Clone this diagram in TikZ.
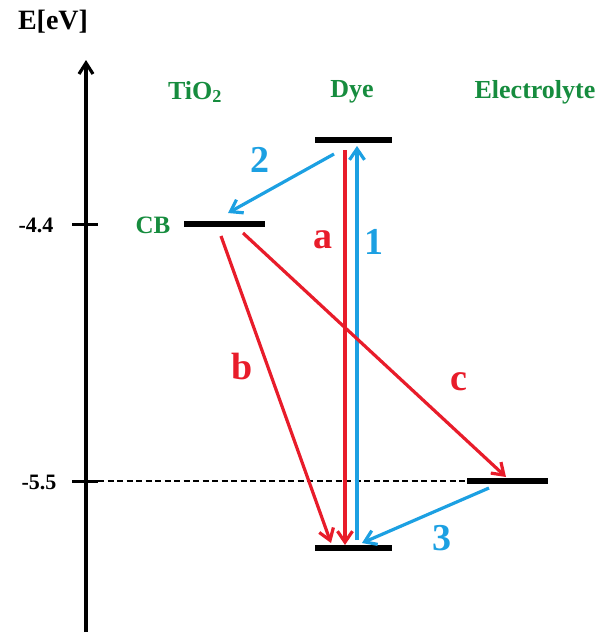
\documentclass[tikz,border=0pt]{standalone}
\usepackage{fontspec}
\setmainfont{Liberation Serif}
\usetikzlibrary{arrows.meta}
\definecolor{myred}{RGB}{232,28,42}
\definecolor{myblue}{RGB}{28,160,226}
\definecolor{mygreen}{RGB}{22,140,62}
\begin{document}
\begin{tikzpicture}[x=1pt,y=-1pt,
  level/.style={line width=6.5pt},
  tr/.style={line width=3.2pt,-{Straight Barb[length=11pt,width=15pt,line width=3.2pt]}},
  redtr/.style={tr,myred},
  bluetr/.style={tr,myblue},
  lab/.style={font=\bfseries\fontsize{38}{42}\selectfont},
  head/.style={font=\bfseries\fontsize{26}{30}\selectfont,text=mygreen},
  val/.style={font=\bfseries\fontsize{22}{26}\selectfont}]
\useasboundingbox (0,0) rectangle (605,635);
% axis
\coordinate (axb) at (86,632);
\coordinate (axt) at (86,60);
\draw[line width=3.2pt,-{Straight Barb[length=11pt,width=14pt,line width=3.2pt]}] (axb) -- (axt);
\node[font=\bfseries\fontsize{28}{32}\selectfont] (E) at (53,22) {E[eV]};
\coordinate (t1l) at (72,224); \coordinate (t1r) at (98,224);
\coordinate (t2l) at (72,481); \coordinate (t2r) at (98,481);
\draw[line width=3pt] (t1l) -- (t1r);
\draw[line width=3pt] (t2l) -- (t2r);
\node[val] (v1) at (36,225) {-4.4};
\node[val] (v2) at (39,482) {-5.5};
% headers
\node[head] (tio) at (195,92) {TiO\textsubscript{2}};
\node[head] (dye) at (352,92) {Dye};
\node[head] (ele) at (535,92) {Electrolyte};
% levels
\coordinate (cbL) at (184,224); \coordinate (cbR) at (265,224);
\coordinate (luL) at (315,140); \coordinate (luR) at (392,140);
\coordinate (hoL) at (315,548); \coordinate (hoR) at (392,548);
\coordinate (elL) at (467,481); \coordinate (elR) at (548,481);
\draw[level] (cbL) -- (cbR);
\draw[level] (luL) -- (luR);
\draw[level] (hoL) -- (hoR);
\draw[level] (elL) -- (elR);
\node[font=\bfseries\fontsize{25}{28}\selectfont,text=mygreen] (cb) at (153,225) {CB};
\draw[line width=1.7pt,dash pattern=on 6pt off 3.5pt] (t2r) -- (elL);
% transitions
\coordinate (a0) at (345,150); \coordinate (a1) at (345,545);
\coordinate (n0) at (357,540); \coordinate (n1) at (357,146);
\coordinate (w0) at (334,154); \coordinate (w1) at (228,213);
\coordinate (b0) at (221,236); \coordinate (b1) at (331,543);
\coordinate (c0) at (243,233); \coordinate (c1) at (506,477);
\coordinate (h0) at (489,488); \coordinate (h1) at (362,543);
\draw[redtr] (a0) -- (a1);
\draw[bluetr] (n0) -- (n1);
\draw[bluetr] (w0) -- (w1);
\draw[redtr] (b0) -- (b1);
\draw[redtr] (c0) -- (c1);
\draw[bluetr] (h0) -- (h1);
% labels
\node[lab,text=myblue] (l2) at (260,160) {2};
\node[lab,text=myred] (la) at (323,240) {a};
\node[lab,text=myblue] (l1) at (374,242) {1};
\node[lab,text=myred] (lb) at (242,366) {b};
\node[lab,text=myred] (lc) at (459,382) {c};
\node[lab,text=myblue] (l3) at (442,538) {3};
\end{tikzpicture}
\end{document}
